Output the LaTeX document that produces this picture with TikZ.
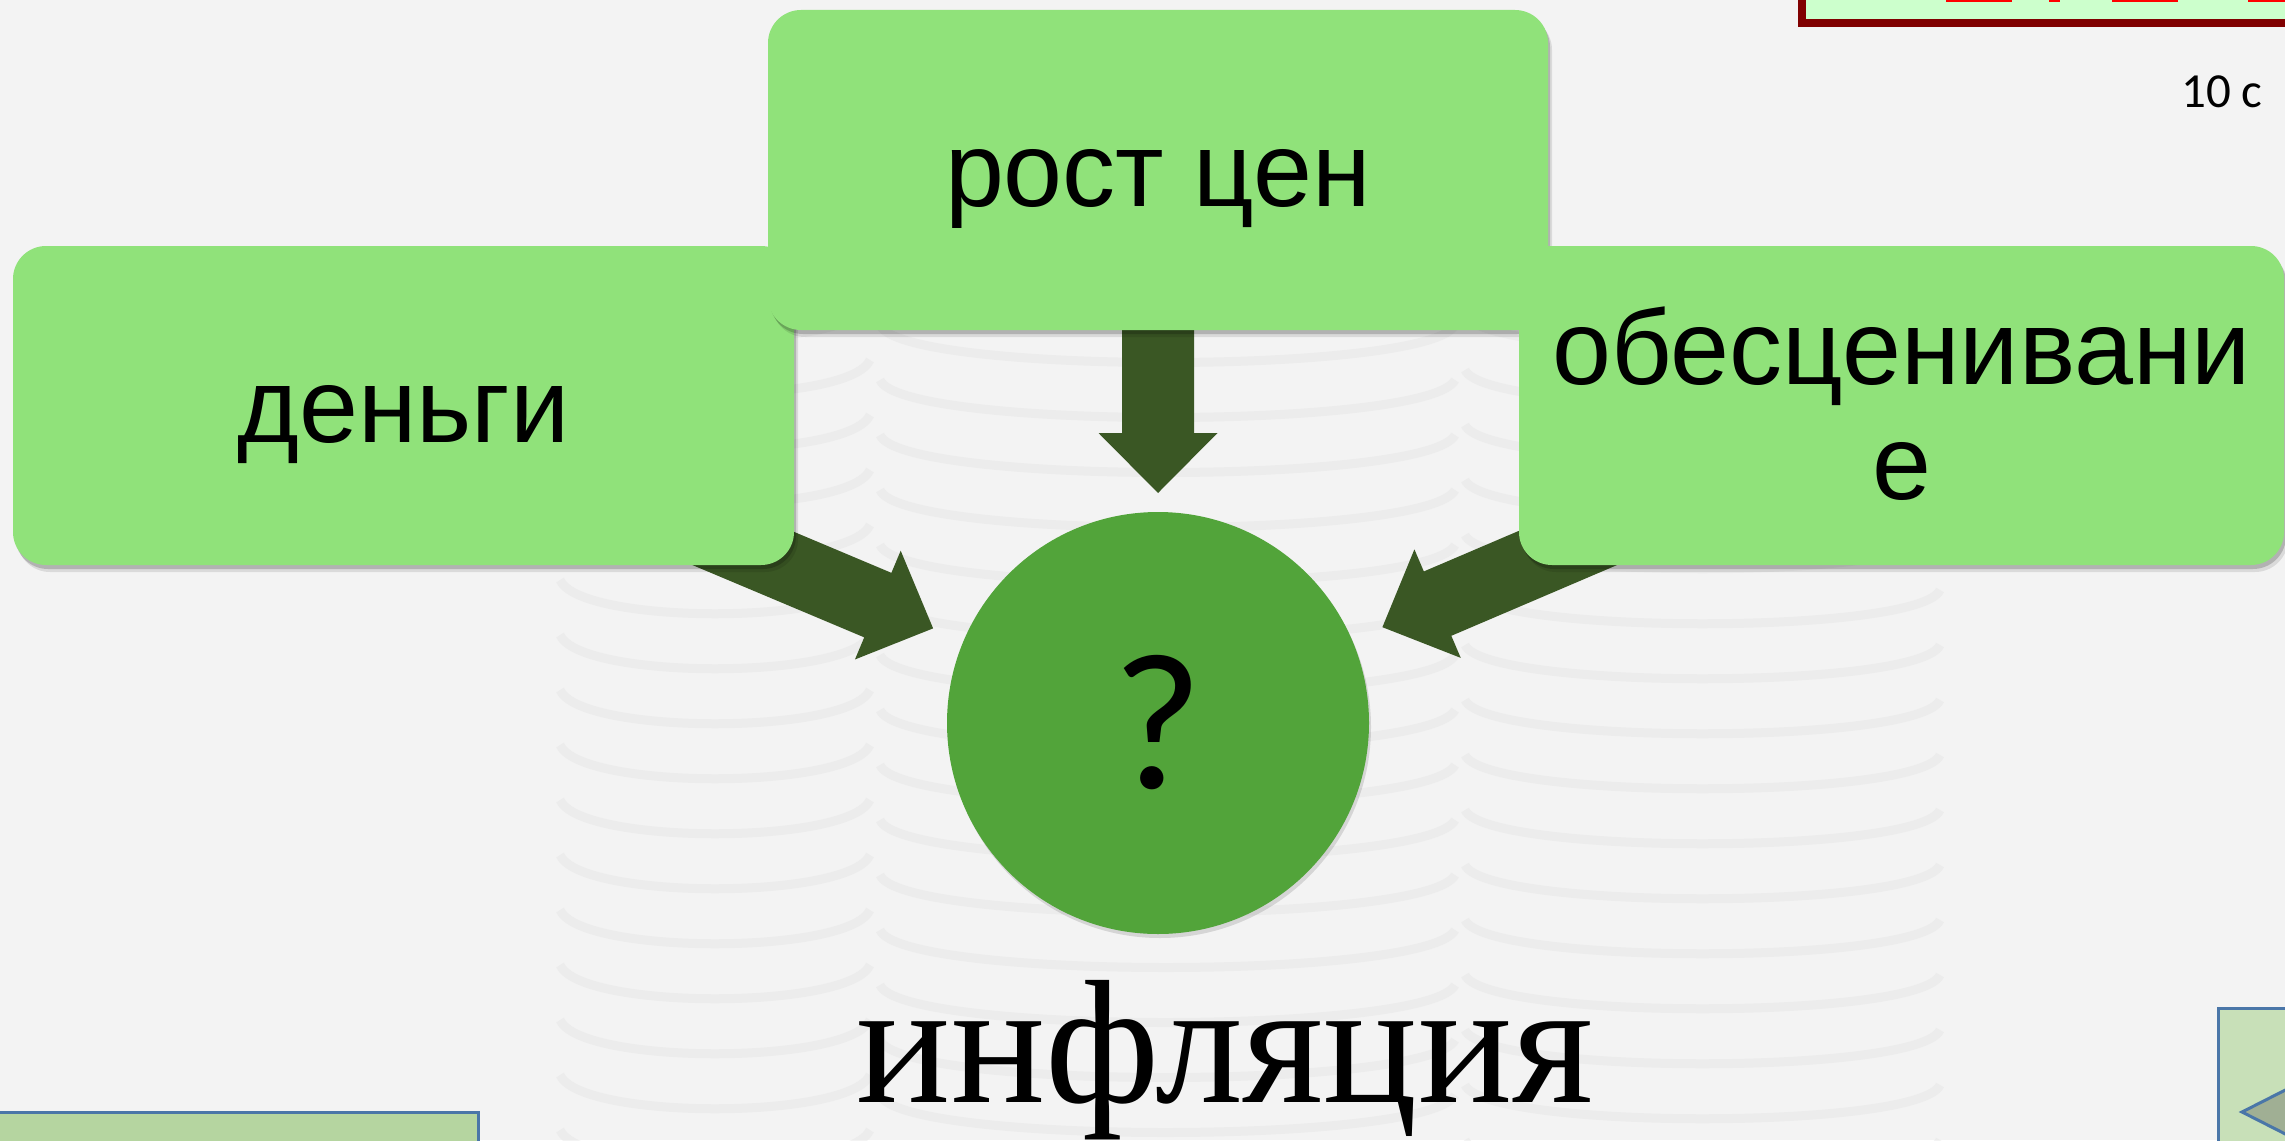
\documentclass[tikz,border=0pt]{standalone}
\usepackage{fontspec}
\newfontfamily\arialf{Liberation Sans}
\newfontfamily\calf{Carlito}
\newfontfamily\timesf{Liberation Serif}
\usetikzlibrary{calc}
\definecolor{bgc}{RGB}{243,243,243}
\definecolor{coinline}{RGB}{228,228,228}
\definecolor{boxg}{RGB}{144,226,122}
\definecolor{circg}{RGB}{82,164,58}
\definecolor{arrg}{RGB}{58,87,36}
\definecolor{darkred}{RGB}{128,0,0}
\definecolor{lgreen}{RGB}{204,255,204}
\definecolor{navblue}{RGB}{74,118,168}
\definecolor{navfillA}{RGB}{181,213,160}
\definecolor{navfillB}{RGB}{200,224,184}
\definecolor{navtri}{RGB}{160,175,148}
\pgfdeclarelayer{bglayer}
\pgfdeclarelayer{arrowlayer}
\pgfsetlayers{bglayer,arrowlayer,main}
\tikzset{
  softshadow/.style={
    preaction={fill=black, opacity=0.10, transform canvas={xshift=4pt,yshift=-7pt}},
    preaction={fill=black, opacity=0.18, transform canvas={xshift=2pt,yshift=-4pt}}},
  greenbox/.style={rectangle, rounded corners=33pt, fill=boxg, inner sep=0pt,
    minimum width=781pt, minimum height=319pt, softshadow,
    font=\arialf\fontsize{106}{115}\selectfont, align=center,
    text height=96pt, text depth=22.5pt},
  arrowfill/.style={fill=arrg},
  coinarc/.style={draw=coinline, line width=9pt, opacity=0.45},
}
% block arrow from node #1 towards node q: #2 tip distance, #3 base distance,
% #4 half shaft width, #5 half head width
\newcommand\blockarr[5]{%
  \coordinate (T) at ($(q.center)!#2!(#1.center)$);
  \coordinate (B) at ($(q.center)!#3!(#1.center)$);
  \fill[arrowfill] ($(#1.center)!#4!90:(T)$) -- ($(B)!#4!90:(T)$) -- ($(B)!#5!90:(T)$)
    -- (T) -- ($(B)!#5!-90:(T)$) -- ($(B)!#4!-90:(T)$) -- ($(#1.center)!#4!-90:(T)$) -- cycle;
}
\begin{document}
\begin{tikzpicture}[x=1pt,y=-1pt]
\useasboundingbox (0,0) rectangle (2285,1140);
\clip (0,0) rectangle (2285,1140);
\begin{pgfonlayer}{bglayer}
\fill[bgc] (0,0) rectangle (2285,1140);
% faint coin stacks of the background photo
\foreach \y in {250,305,...,1140} {
  \draw[coinarc] (560,\y) .. controls (580,\y+45) and (850,\y+45) .. (870,\y);
  \draw[coinarc] (880,\y+20) .. controls (900,\y+70) and (1430,\y+70) .. (1455,\y+20);
  \draw[coinarc] (1465,\y+10) .. controls (1485,\y+55) and (1920,\y+55) .. (1940,\y+10);
}
\end{pgfonlayer}

\node[greenbox] (den) at (403.5,405.5) {деньги};
\node[greenbox, minimum width=780pt, minimum height=320pt] (rost) at (1158,170) {рост цен};
\node[greenbox, minimum width=765pt, text height=211pt] (obes) at (1901.5,405.5) {обесценивани\\е};

\node[circle, minimum size=422pt, inner sep=0pt, outer sep=0pt, fill=circg,
  preaction={fill=black, opacity=0.12, transform canvas={xshift=2pt,yshift=-4pt}},
  font=\calf\fontsize{195}{200}\selectfont] (q) at (1158,723) {?};

\begin{pgfonlayer}{arrowlayer}
\blockarr{rost}{230pt}{290pt}{36pt}{59.5pt}
\blockarr{den}{244pt}{304pt}{35pt}{59pt}
\blockarr{obes}{244pt}{304pt}{35pt}{59pt}
\end{pgfonlayer}

\node[anchor=base, inner sep=0pt, font=\timesf\fontsize{176}{180}\selectfont] (infl) at (1225,1102) {инфляция};

% timer box (cut at top)
\draw[draw=darkred, line width=7.5pt, fill=lgreen] (1801.75,-20) rectangle (2300,23.25);
\fill[red] (1946,0) rectangle (2012,2);
\fill[red] (2049,0) rectangle (2060,2);
\fill[red] (2112,0) rectangle (2178,2);
\fill[red] (2248,0) rectangle (2290,2);
\node[anchor=base west, inner sep=0pt, font=\calf\fontsize{49}{52}\selectfont] (timer) at (2181,107) {10 с};

% navigation boxes
\draw[draw=navblue, line width=3pt, fill=navfillA] (-10,1112.5) rectangle (478.5,1160);
\draw[draw=navblue, line width=3pt, fill=navfillB] (2218.5,1008.5) rectangle (2300,1160);
\draw[draw=navblue, line width=3pt, fill=navtri] (2242,1112) -- (2305,1080) -- (2305,1144) -- cycle;
\end{tikzpicture}
\end{document}
